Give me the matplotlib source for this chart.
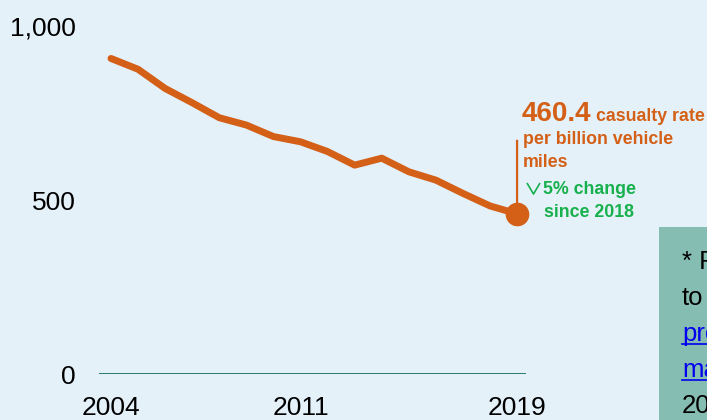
import matplotlib

matplotlib.use("Agg")
import matplotlib.pyplot as plt
from matplotlib.patches import Rectangle
from matplotlib.path import Path
from matplotlib.transforms import offset_copy

plt.rcParams["font.family"] = ["Liberation Sans", "DejaVu Sans"]

# data
years = list(range(2004, 2020))
casualty_rate = [906, 875, 820, 779, 736, 715, 682, 667, 639, 600, 620, 581, 557, 519, 483, 460.4]
y_ticks = [0, 500, 1000]
y_tick_labels = ["0", "500", "1,000"]
x_ticks = [2004, 2011, 2019]
note_lines = ["* F", "to", "pro", "ma", "20"]
note_is_link = [False, False, True, True, False]

BG = "#e4f1f9"
ORANGE = "#d45f16"
GREEN = "#16b04c"
BASE = "#17705a"
W, H = 707, 420

fig = plt.figure(figsize=(W / 100, H / 100), dpi=100, facecolor=BG)
ax = fig.add_axes([99 / W, (H - 374.3) / H, (526 - 99) / W, 348.6 / H])
ax.set_facecolor(BG)

ax.plot(years, casualty_rate, color=ORANGE, lw=5, solid_capstyle="round",
        solid_joinstyle="round", clip_on=False, zorder=3)
ax.plot(years[-1], casualty_rate[-1], "o", color=ORANGE, ms=16, clip_on=False, zorder=4)
ax.axhline(0, color=BASE, lw=2, zorder=2)

ax.set_xlim(2003.557, 2019.33)
ax.set_ylim(0, 1000)
ax.set_yticks(y_ticks)
ax.set_yticklabels(y_tick_labels)
ax.set_xticks(x_ticks)
ax.set_xticklabels([str(x) for x in x_ticks])
ax.tick_params(axis="y", length=0, pad=17, labelsize=19, colors="black")
ax.tick_params(axis="x", length=0, pad=15.5, labelsize=19, colors="black")
for s in ax.spines.values():
    s.set_visible(False)

# leader line and callout
last_x, last_y = years[-1], casualty_rate[-1]
ax.annotate("", xy=(last_x, last_y), xytext=(0, 76), textcoords="offset pixels",
            arrowprops=dict(arrowstyle="-", color=ORANGE, lw=1.6), annotation_clip=False)


def callout(text, dx, dy, size, color):
    ax.annotate(text, xy=(last_x, last_y), xytext=(dx, dy), textcoords="offset pixels",
                ha="left", va="baseline", fontsize=size, color=color,
                fontweight="bold", annotation_clip=False)


callout(f"{last_y:.1f}", 5, 93, 20, ORANGE)
callout("casualty rate", 79, 93, 12.8, ORANGE)
callout("per billion vehicle", 6, 70, 12.8, ORANGE)
callout("miles", 6, 47, 12.8, ORANGE)
callout("5% change", 26, 20, 12.8, GREEN)
callout("since 2018", 27, -3, 12.8, GREEN)

# thin down chevron before "5% change"
chevron = Path([(-1, 0.85), (0, -0.85), (1, 0.85)], [Path.MOVETO, Path.LINETO, Path.LINETO])
ax.plot([last_x], [last_y], marker=chevron, ms=9.4, mfc="none", mec=GREEN, mew=1.2,
        ls="none", clip_on=False,
        transform=offset_copy(ax.transData, fig=fig, x=16, y=26, units="dots"))

# teal note box at the right edge, cut off by the figure border
fig.patches.append(Rectangle((659 / W, 0), (W - 659) / W, (H - 227.3) / H,
                             transform=fig.transFigure, facecolor="#86bdb2",
                             edgecolor="none", zorder=0))
for i, (line, link) in enumerate(zip(note_lines, note_is_link)):
    yb = 269 + i * 36
    color = "#0000ee" if link else "black"
    fig.text(682 / W, (H - yb) / H, line, fontsize=18.5, va="baseline", color=color)
    if link:
        fig.lines.append(plt.Line2D([682 / W, 1], [(H - yb - 2.5) / H] * 2,
                                    transform=fig.transFigure, color=color, lw=1.2))

fig.savefig("out.png", dpi=100, facecolor=BG)
